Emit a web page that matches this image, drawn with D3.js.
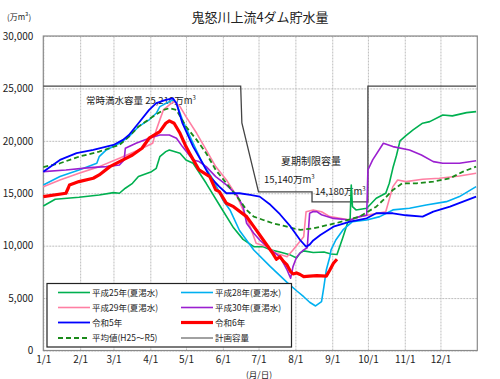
<!DOCTYPE html>
<html><head><meta charset="utf-8">
<script src="https://cdn.jsdelivr.net/npm/d3@7/dist/d3.min.js"></script>
<style>
body{margin:0;background:#fff;}
svg{display:block;}
text{font-family:"Noto Sans CJK JP","Liberation Sans",sans-serif;}
</style></head>
<body>
<svg id="c" width="500" height="379"></svg>
<script>
// ---- data ----
const title = "鬼怒川上流4ダム貯水量";
const yUnit = "(万m³)";
const xTitle = "(月/日)";
const yTicks = [0, 5000, 10000, 15000, 20000, 25000, 30000];
const xTickDates = ["1/1","2/1","3/1","4/1","5/1","6/1","7/1","8/1","9/1","10/1","11/1","12/1"];

const h25 = [["1/1",13790],["1/11",14430],["1/31",14620],["2/17",14840],["3/1",15060],["3/6",15000],["3/11",15480],["3/17",15950],["3/22",16590],["4/2",17060],["4/6",17380],["4/9",18490],["4/14",18970],["4/17",19130],["4/26",18820],["5/1",18180],["5/7",17860],["5/18",15950],["5/29",13900],["6/10",11700],["6/18",10600],["6/27",9900],["7/5",9900],["7/11",9600],["7/19",9400],["7/28",9100],["8/2",8830],["8/5",9300],["8/8",9500],["8/16",9350],["8/25",9400],["8/31",9200],["9/5",9150],["9/10",10800],["9/14",12200],["9/16",12400],["9/17",15790],["9/18",13720],["9/21",13410],["9/30",13570],["10/8",14520],["10/16",15000],["10/19",15950],["10/22",17400],["10/25",18600],["10/28",20000],["11/2",20500],["11/8",21040],["11/16",21680],["11/22",21830],["12/3",22470],["12/11",22380],["12/23",22690],["12/31",22790]];
const h28 = [["1/1",15790],["1/15",16590],["1/31",17220],["2/15",17860],["2/17",18490],["2/23",19130],["3/6",19770],["3/14",20400],["3/22",21350],["3/31",22000],["4/6",22630],["4/9",23260],["4/17",23740],["4/20",23900],["4/23",23590],["4/28",22000],["5/7",19770],["5/15",17860],["5/24",16270],["6/1",14360],["6/7",13410],["6/15",11450],["6/27",9590],["7/11",8000],["7/25",6500],["8/2",5700],["8/8",5130],["8/13",4600],["8/18",4250],["8/23",4660],["8/25",6090],["8/27",7680],["8/30",8950],["8/31",9590],["9/4",10540],["9/10",11500],["9/18",12290],["9/30",12450],["10/11",12770],["10/22",13410],["11/5",13570],["11/19",13880],["12/6",14200],["12/17",14680],["12/31",15630]];
const h29 = [["1/1",15630],["1/15",16270],["1/31",16910],["2/17",17540],["3/6",18340],["3/22",19130],["4/3",19770],["4/6",21040],["4/9",22000],["4/12",22950],["4/17",23430],["4/21",23740],["4/26",23260],["5/1",22310],["5/10",20720],["5/18",19130],["5/26",17540],["6/4",16270],["6/13",14680],["6/18",13410],["6/24",11810],["6/29",10230],["7/8",9900],["7/16",9270],["7/25",8950],["7/30",9590],["8/8",10860],["8/10",13240],["8/16",13410],["8/23",13240],["8/30",12770],["9/16",12450],["9/24",12770],["10/16",13240],["10/22",15630],["10/26",16270],["11/2",16110],["11/16",16330],["11/30",16430],["12/17",16650],["12/31",16910]];
const h30 = [["1/1",17060],["1/20",17220],["2/9",17440],["2/23",17540],["3/6",17700],["3/10",18180],["3/11",19290],["3/20",19770],["3/31",20250],["4/9",20560],["4/17",20560],["4/23",20250],["4/28",19450],["5/7",18180],["5/12",18020],["5/18",17540],["5/26",16590],["6/4",15800],["6/13",14800],["6/18",13720],["6/21",12140],["6/27",11180],["7/2",10540],["7/11",9590],["7/19",8950],["7/25",7680],["7/28",6890],["7/30",8000],["8/2",8900],["8/5",9300],["8/8",9600],["8/11",9800],["8/12",11500],["8/13",13100],["8/16",13250],["8/19",13250],["8/23",12950],["8/27",12800],["9/2",12600],["9/16",12450],["9/24",12770],["9/30",12900],["10/1",17220],["10/5",18180],["10/14",19770],["10/22",19450],["11/5",19130],["11/15",18650],["11/25",18020],["12/3",17860],["12/17",17860],["12/31",18100]];
const r5 = [["1/1",17060],["1/15",18180],["1/29",18820],["2/12",19130],["3/1",19610],["3/9",20090],["3/14",20560],["3/22",21680],["3/31",22950],["4/6",23600],["4/14",23900],["4/20",24060],["4/23",23590],["4/28",21680],["5/7",19450],["5/15",17860],["5/21",16590],["5/29",15630],["6/4",15000],["6/15",15000],["6/24",14840],["7/2",14680],["7/11",13900],["7/19",13000],["7/28",11810],["8/5",10540],["8/10",9900],["8/13",10100],["8/16",10500],["8/22",11020],["9/2",11810],["9/16",12290],["9/30",12610],["10/8",13090],["10/22",13090],["11/2",12900],["11/16",12770],["11/25",13250],["12/9",13720],["12/20",14200],["12/31",14680]];
const r6 = [["1/1",14680],["1/20",15000],["1/22",15500],["1/23",15790],["1/31",16110],["2/12",16430],["2/17",16750],["2/26",17540],["3/9",18180],["3/17",18650],["3/25",19290],["3/31",20250],["4/9",20880],["4/14",21680],["4/17",21900],["4/21",21680],["4/26",20720],["5/1",19450],["5/4",18820],["5/12",17220],["5/21",16590],["5/26",15320],["5/29",15150],["6/4",14040],["6/10",13720],["6/21",12770],["6/29",11500],["7/5",10540],["7/13",9270],["7/16",8700],["7/19",8950],["7/22",8500],["7/25",8160],["7/28",7520],["7/30",7300],["8/2",7400],["8/5",7250],["8/8",7040],["8/13",7100],["8/19",7150],["8/27",7100],["8/30",7680],["9/2",8320],["9/5",8700]];
const avg = [["1/1",17500],["1/15",17860],["1/31",18490],["2/17",18970],["3/6",19610],["3/14",20400],["3/22",21350],["4/3",22310],["4/12",22950],["4/17",23110],["4/23",22950],["5/1",21350],["5/10",20090],["5/18",18820],["5/26",17220],["6/4",15950],["6/15",14360],["6/21",13410],["6/27",12770],["7/5",12450],["7/13",12140],["7/25",11810],["8/5",11500],["8/16",11650],["8/22",11810],["9/4",12140],["9/24",12770],["10/8",13720],["10/14",14360],["10/22",15320],["10/30",15950],["11/11",15950],["11/25",16110],["12/9",16430],["12/20",17060],["12/31",17540]];
const plan = [["1/1",25210],["6/16",25210],["6/17",21700],["7/1",15140],["8/15",15140],["8/15",14180],["10/1",14180],["10/1",25210],["12/31",25210]];

const seriesNames = ["平成25年(夏渇水)","平成28年(夏渇水)","平成29年(夏渇水)","平成30年(夏渇水)","令和5年","令和6年","平均値(H25～R5)","計画容量"];
const labels = {full:"常時満水容量 25,210万m", summer:"夏期制限容量", s1:"15,140万m", s2:"14,180万m"};

// ---- chart ----
const svg = d3.select("#c");
const parse = s => d3.timeParse("%Y/%m/%d")("2023/" + s);
const L = 43.3, R = 477.3, T = 36, B = 350.5;
const x = d3.scaleTime().domain([new Date(2023,0,1), new Date(2024,0,1)]).range([L, R]);
const y = d3.scaleLinear().domain([0, 30000]).range([B, T]);

// grid
const gy = svg.append("g").attr("transform", `translate(${L},0)`)
  .call(d3.axisLeft(y).tickValues(yTicks).tickSize(-(R-L)).tickFormat(""));
gy.select(".domain").remove();
gy.selectAll("line").attr("stroke", "#bdbdbd").attr("stroke-width", 1).attr("stroke-dasharray","2,1");
const gx = svg.append("g").attr("transform", `translate(0,${B})`)
  .call(d3.axisBottom(x).tickValues(xTickDates.map(parse)).tickSize(-(B-T)).tickFormat(""));
gx.select(".domain").remove();
gx.selectAll("line").attr("stroke", "#bdbdbd").attr("stroke-width", 1).attr("stroke-dasharray","2,1");

// frame
svg.append("rect").attr("x", L).attr("y", T).attr("width", R-L).attr("height", B-T)
  .attr("fill", "none").attr("stroke", "#8a8a8a").attr("stroke-width", 1.2);

// tick labels
const ay = svg.append("g").attr("transform", `translate(${L},0)`)
  .call(d3.axisLeft(y).tickValues(yTicks).tickSize(0).tickPadding(10).tickFormat(d3.format(",")));
ay.select(".domain").remove();
ay.selectAll("text").attr("font-family","Liberation Sans, sans-serif").attr("font-size", 10).attr("fill","#222");
const ax = svg.append("g").attr("transform", `translate(0,${B})`)
  .call(d3.axisBottom(x).tickValues(xTickDates.map(parse)).tickSize(0).tickPadding(5)
    .tickFormat((d,i) => xTickDates[i]));
ax.select(".domain").remove();
ax.selectAll("text").attr("font-family","Liberation Sans, sans-serif").attr("font-size", 10).attr("fill","#222");

// titles
svg.append("text").attr("x", 260).attr("y", 22).attr("text-anchor","middle")
  .attr("font-size", 13).attr("fill","#222").text(title);
svg.append("text").attr("x", 7).attr("y", 20).attr("font-size", 8).attr("fill","#222").text(yUnit);
svg.append("text").attr("x", 259).attr("y", 377.5).attr("text-anchor","middle")
  .attr("font-size", 8.5).attr("fill","#222").text(xTitle);

// plan line
const line = d3.line().x(d => x(parse(d[0]))).y(d => y(d[1]));
svg.append("path").datum(plan).attr("d", line).attr("fill","none")
  .attr("stroke","#444").attr("stroke-width",1.3);

// annotation labels
function mlabel(txt, px, py, anchor) {
  const t = svg.append("text").attr("x", px).attr("y", py).attr("font-size", 9.5)
    .attr("fill","#222").attr("text-anchor", anchor || "start");
  t.append("tspan").text(txt);
  t.append("tspan").attr("font-size", 6).attr("dy", -4).text("3");
}
mlabel(labels.full, 86, 104);
svg.append("text").attr("x", 311).attr("y", 165).attr("text-anchor","middle")
  .attr("font-size", 10).attr("fill","#222").text(labels.summer);
mlabel(labels.s1, 264, 183);
mlabel(labels.s2, 315, 194.5);

// series
const styles = [
  {data:h25, color:"#00b050", w:1.6},
  {data:h28, color:"#00b0f0", w:1.6},
  {data:h29, color:"#ff7fa3", w:1.6},
  {data:h30, color:"#9b1fd0", w:1.6},
  {data:avg, color:"#1a8a1a", w:1.8, dash:"5,3"},
  {data:r5, color:"#0000ff", w:1.8},
  {data:r6, color:"#ff0000", w:3.2}
];
styles.forEach(s => {
  svg.append("path").datum(s.data).attr("d", line).attr("fill","none")
    .attr("stroke", s.color).attr("stroke-width", s.w)
    .attr("stroke-linejoin","round")
    .attr("stroke-dasharray", s.dash || null);
});

// legend
const lg = svg.append("g");
lg.append("rect").attr("x", 47).attr("y", 283.5).attr("width", 244.5).attr("height", 63.5)
  .attr("fill","#fff").attr("stroke","#222").attr("stroke-width",1.2);
const legItems = [
  {name:seriesNames[0], color:"#00b050", w:1.6},
  {name:seriesNames[1], color:"#00b0f0", w:1.6},
  {name:seriesNames[2], color:"#ff7fa3", w:1.6},
  {name:seriesNames[3], color:"#9b1fd0", w:1.6},
  {name:seriesNames[4], color:"#0000ff", w:1.8},
  {name:seriesNames[5], color:"#ff0000", w:3.2},
  {name:seriesNames[6], color:"#1a8a1a", w:1.8, dash:"5,3"},
  {name:seriesNames[7], color:"#444", w:1}
];
const rowY = [292.5, 307.5, 322.5, 338];
legItems.forEach((it, i) => {
  const col = i % 2, row = Math.floor(i / 2);
  const x0 = col === 0 ? 58 : 181;
  const yy = rowY[row];
  lg.append("line").attr("x1", x0).attr("x2", x0 + 32).attr("y1", yy).attr("y2", yy)
    .attr("stroke", it.color).attr("stroke-width", it.w).attr("stroke-dasharray", it.dash || null);
  lg.append("text").attr("x", x0 + 34).attr("y", yy + 3.2).attr("font-size", 8.5)
    .attr("fill","#222").text(it.name);
});
</script>
</body></html>
